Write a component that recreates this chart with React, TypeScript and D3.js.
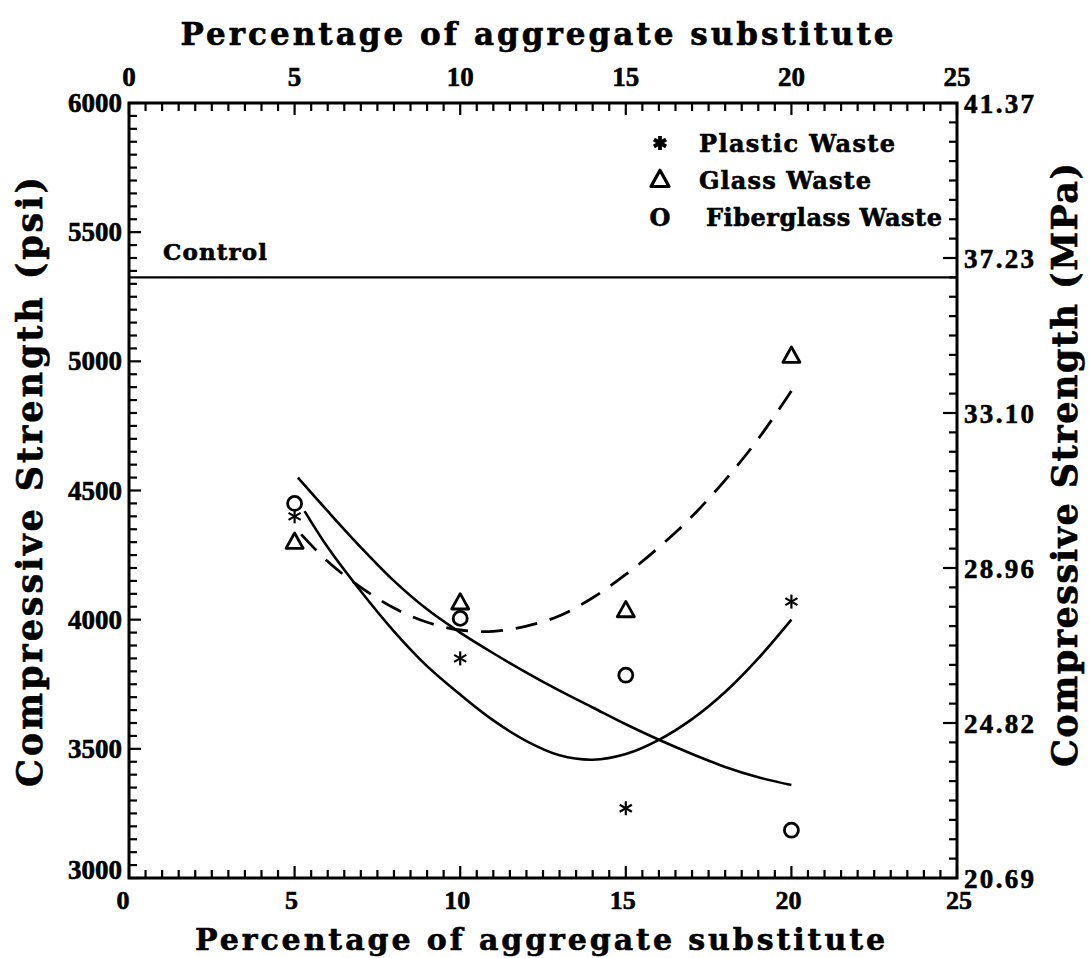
import React from "react";
import * as d3 from "d3";

const W = 1089;
const H = 958;

// X axis (percentage of aggregate substitute)
const xMajorTicks = [0, 5, 10, 15, 20, 25];
// Left axis (psi)
const psiMajorTicks = [3000, 3500, 4000, 4500, 5000, 5500, 6000];
// Right axis (MPa) labels, placed at psi equivalents
const mpaTickPsi = [6000, 5400, 4800, 4200, 3600, 3000];
const mpaTickLabels = ["41.37", "37.23", "33.10", "28.96", "24.82", "20.69"];

// Measured points
const pct = [5, 10, 15, 20];
const plasticPsi = [4400, 3850, 3270, 4070];
const glassPsi = [4300, 4065, 4035, 5020];
const fiberPsi = [4450, 4005, 3785, 3185];
const controlPsi = 5325;

// Fitted curves
const plasticFitX = [5.3, 6, 7, 8, 9, 10, 11, 12, 13, 14, 15, 16, 17, 18, 19, 20];
const plasticFitPsi = [4420, 4280, 4110, 3955, 3820, 3710, 3610, 3530, 3475, 3458, 3480, 3535, 3615, 3720, 3850, 4000];
const fiberFitX = [5.1, 6, 7, 8, 9, 10, 11, 12, 13, 14, 15, 16, 17, 18, 19, 20];
const fiberFitPsi = [4550, 4420, 4280, 4150, 4040, 3950, 3870, 3795, 3725, 3660, 3595, 3535, 3480, 3430, 3390, 3360];
const glassFitX = [5.2, 6, 7, 8, 9, 10, 11, 12, 13, 14, 15, 16, 17, 18, 19, 20];
const glassFitPsi = [4330, 4225, 4125, 4045, 3990, 3960, 3955, 3975, 4015, 4085, 4175, 4280, 4400, 4540, 4700, 4885];

const legendItems = ["Plastic Waste", "Glass Waste", "Fiberglass Waste"];
const legendWidths = [196, 172, 236];

const L = 129, R = 957, T = 103, B = 878;
const x = d3.scaleLinear().domain([0, 25]).range([L, R]);
const y = d3.scaleLinear().domain([3000, 6000]).range([B, T]);

const TITLE_FONT = "'DejaVu Serif', serif";
const TICK_FONT = "'Liberation Serif', serif";

function Asterisk({ cx, cy, r, sw }: { cx: number; cy: number; r: number; sw: number }) {
  const arms = [90, 30, 150];
  return (
    <g>
      {arms.map((a) => {
        const rad = (a * Math.PI) / 180;
        const dx = Math.cos(rad) * r;
        const dy = Math.sin(rad) * r;
        return <line key={a} x1={cx - dx} y1={cy - dy} x2={cx + dx} y2={cy + dy} stroke="#000" strokeWidth={sw} />;
      })}
    </g>
  );
}

function Triangle({ cx, cy, s, sw }: { cx: number; cy: number; s: number; sw: number }) {
  const h = s * 0.9;
  const d = `M${cx},${cy - h * 0.6}L${cx + s / 2},${cy + h * 0.4}L${cx - s / 2},${cy + h * 0.4}Z`;
  return <path d={d} fill="none" stroke="#000" strokeWidth={sw} strokeLinejoin="round" />;
}

const heavy = { fontWeight: "bold" as const, stroke: "#000", strokeWidth: 0.6 };

export default function App() {
  const line = d3
    .line<[number, number]>()
    .x((d) => x(d[0]))
    .y((d) => y(d[1]))
    .curve(d3.curveCatmullRom.alpha(0.5));

  const plasticFit = line(plasticFitX.map((v, i) => [v, plasticFitPsi[i]] as [number, number])) || "";
  const fiberFit = line(fiberFitX.map((v, i) => [v, fiberFitPsi[i]] as [number, number])) || "";
  const glassFit = line(glassFitX.map((v, i) => [v, glassFitPsi[i]] as [number, number])) || "";

  const xMinor = d3.range(0, 25.001, 0.5);
  const psiMinor = d3.range(3000, 6000.001, 50);
  const rightMinor = d3.range(3000, 6000.001, 75);

  return (
    <div style={{ position: "absolute", left: 0, top: 0 }}>
      <svg width={W} height={H} viewBox={`0 0 ${W} ${H}`} style={{ display: "block", background: "#fff" }}>
        {/* frame */}
        <rect x={L} y={T} width={R - L} height={B - T} fill="none" stroke="#000" strokeWidth={3} />

        {/* bottom & top ticks */}
        {xMinor.map((v) => {
          const major = Math.abs(v - Math.round(v / 5) * 5) < 1e-6;
          const len = major ? 12 : 8;
          return (
            <g key={"xt" + v}>
              <line x1={x(v)} x2={x(v)} y1={B} y2={B - len} stroke="#000" strokeWidth={2.2} />
              <line x1={x(v)} x2={x(v)} y1={T} y2={T + len} stroke="#000" strokeWidth={2.2} />
            </g>
          );
        })}
        {/* left ticks */}
        {psiMinor.map((v) => {
          const major = v % 500 === 0;
          return <line key={"lt" + v} x1={L} x2={L + (major ? 12 : 8)} y1={y(v)} y2={y(v)} stroke="#000" strokeWidth={2.2} />;
        })}
        {/* right ticks */}
        {rightMinor.map((v) => {
          const major = v % 600 === 0;
          return <line key={"rt" + v} x1={R} x2={R - (major ? 14 : 8)} y1={y(v)} y2={y(v)} stroke="#000" strokeWidth={2.2} />;
        })}

        {/* bottom tick labels */}
        {xMajorTicks.map((v) => (
          <text key={"bx" + v} x={x(v) - (v === 0 ? 6 : v === 25 ? -2 : 3)} y={909} textAnchor="middle" fontFamily={TICK_FONT} fontSize={26} {...heavy}>
            {v}
          </text>
        ))}
        {/* top tick labels */}
        {xMajorTicks.map((v) => (
          <text key={"tx" + v} x={x(v)} y={86} textAnchor="middle" fontFamily={TICK_FONT} fontSize={27} {...heavy}>
            {v}
          </text>
        ))}
        {/* left tick labels */}
        {psiMajorTicks.map((v) => (
          <text key={"ly" + v} x={122} y={y(v) + (v === 3000 ? 1 : 9)} textAnchor="end" fontFamily={TICK_FONT} fontSize={27} {...heavy}>
            {v}
          </text>
        ))}
        {/* right tick labels */}
        {mpaTickPsi.map((v, i) => (
          <text key={"ry" + v} x={964} y={y(v) + 10} textAnchor="start" fontFamily={TICK_FONT} fontSize={27} textLength={70} lengthAdjust="spacing" {...heavy}>
            {mpaTickLabels[i]}
          </text>
        ))}

        {/* titles */}
        <text x={537} y={45} textAnchor="middle" fontFamily={TITLE_FONT} fontSize={31} textLength={713} lengthAdjust="spacing" {...heavy}>
          Percentage of aggregate substitute
        </text>
        <text x={540} y={950} textAnchor="middle" fontFamily={TITLE_FONT} fontSize={30} textLength={690} lengthAdjust="spacing" {...heavy}>
          Percentage of aggregate substitute
        </text>
        <text transform="translate(42,787) rotate(-90)" textAnchor="start" fontFamily={TITLE_FONT} fontSize={35} textLength={610} lengthAdjust="spacing" {...heavy}>
          Compressive Strength (psi)
        </text>
        <text transform="translate(1077,767) rotate(-90)" textAnchor="start" fontFamily={TITLE_FONT} fontSize={35} textLength={604} lengthAdjust="spacing" {...heavy}>
          Compressive Strength (MPa)
        </text>

        {/* control */}
        <line x1={L} x2={R} y1={y(controlPsi)} y2={y(controlPsi)} stroke="#000" strokeWidth={2.2} />
        <text x={163} y={y(controlPsi) - 17} fontFamily={TITLE_FONT} fontSize={23} textLength={104} lengthAdjust="spacing" {...heavy}>
          Control
        </text>

        {/* fits */}
        <path d={plasticFit} fill="none" stroke="#000" strokeWidth={2.6} />
        <path d={fiberFit} fill="none" stroke="#000" strokeWidth={2.6} />
        <path d={glassFit} fill="none" stroke="#000" strokeWidth={2.8} strokeDasharray="22 13" />

        {/* points */}
        {pct.map((p, i) => (
          <Asterisk key={"pa" + i} cx={x(p)} cy={y(plasticPsi[i])} r={7} sw={2.2} />
        ))}
        {pct.map((p, i) => (
          <Triangle key={"ga" + i} cx={x(p)} cy={y(glassPsi[i])} s={17} sw={2.8} />
        ))}
        {pct.map((p, i) => (
          <circle key={"fa" + i} cx={x(p)} cy={y(fiberPsi[i])} r={7} fill="none" stroke="#000" strokeWidth={2.8} />
        ))}

        {/* legend */}
        <g>
          <Asterisk cx={660} cy={143} r={7} sw={3.8} />
          <Triangle cx={660} cy={180} s={18} sw={3.2} />
          <text x={660} y={226} textAnchor="middle" fontFamily={TITLE_FONT} fontSize={24} {...heavy}>O</text>
          {legendItems.map((t, i) => (
            <text key={t} x={i === 2 ? 706 : 699} y={152 + i * 37} fontFamily={TITLE_FONT} fontSize={24} textLength={legendWidths[i]} lengthAdjust="spacing" {...heavy}>
              {t}
            </text>
          ))}
        </g>
      </svg>
    </div>
  );
}
